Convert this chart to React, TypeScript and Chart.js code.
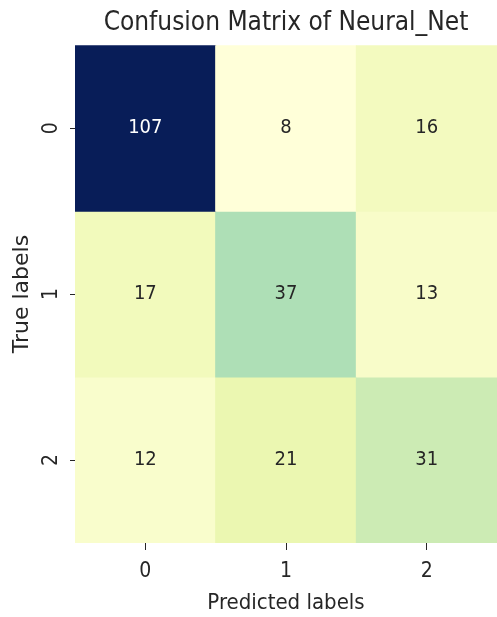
import React, { useEffect, useRef } from 'react';
import { Chart, registerables } from 'chart.js';

Chart.register(...registerables);

// Data
const predictedLabels = ['0', '1', '2'];
const trueLabels = ['0', '1', '2'];
const rowTrue0 = [107, 8, 16];
const rowTrue1 = [17, 37, 13];
const rowTrue2 = [12, 21, 31];
const matrix = [rowTrue0, rowTrue1, rowTrue2];

// YlGnBu colormap stops
const ylGnBu = ['#ffffd9', '#edf8b1', '#c7e9b4', '#7fcdbb', '#41b6c4', '#1d91c0', '#225ea8', '#253494', '#081d58'];

function hexToRgb(h: string) {
  const n = parseInt(h.slice(1), 16);
  return [(n >> 16) & 255, (n >> 8) & 255, n & 255];
}

function cmap(v: number, vmin: number, vmax: number) {
  const t = Math.max(0, Math.min(1, (v - vmin) / (vmax - vmin)));
  const p = t * (ylGnBu.length - 1);
  const i = Math.min(Math.floor(p), ylGnBu.length - 2);
  const f = p - i;
  const a = hexToRgb(ylGnBu[i]);
  const b = hexToRgb(ylGnBu[i + 1]);
  const c = a.map((x, k) => Math.round(x + (b[k] - x) * f));
  return { css: `rgb(${c[0]},${c[1]},${c[2]})`, lum: (0.299 * c[0] + 0.587 * c[1] + 0.114 * c[2]) / 255 };
}

const FONT = "'DejaVu Sans Condensed', 'DejaVu Sans', sans-serif";
const TEXT = '#262626';

export default function App() {
  const ref = useRef<HTMLCanvasElement>(null);
  useEffect(() => {
    document.body.style.margin = '0';
    const all = matrix.flat();
    const vmin = Math.min(...all);
    const vmax = Math.max(...all);

    const datasets = trueLabels.map((t, i) => ({
      label: 'True ' + t,
      data: matrix[i].map(() => [i - 0.5, i + 0.5]),
      backgroundColor: matrix[i].map((v) => cmap(v, vmin, vmax).css),
      borderWidth: 0,
      barPercentage: 1,
      categoryPercentage: 1,
      grouped: false,
      inflateAmount: 0.5,
    }));

    const annot = {
      id: 'annot',
      afterDatasetsDraw(chart: any) {
        const ctx = chart.ctx;
        ctx.save();
        ctx.font = `20px ${FONT}`;
        ctx.textAlign = 'center';
        ctx.textBaseline = 'middle';
        chart.data.datasets.forEach((ds: any, i: number) => {
          const meta = chart.getDatasetMeta(i);
          meta.data.forEach((bar: any, j: number) => {
            const v = matrix[i][j];
            const c = cmap(v, vmin, vmax);
            ctx.fillStyle = c.lum < 0.5 ? '#ffffff' : TEXT;
            ctx.fillText(String(v), bar.x, (bar.y + bar.base) / 2);
          });
        });
        ctx.restore();
      },
    };

    const chart = new Chart(ref.current as HTMLCanvasElement, {
      type: 'bar',
      data: { labels: predictedLabels, datasets: datasets as any },
      options: {
        responsive: false,
        animation: false,
        devicePixelRatio: 1,
        layout: { padding: 0 },
        plugins: {
          legend: { display: false },
          tooltip: { enabled: false },
          title: {
            display: true,
            text: 'Confusion Matrix of Neural_Net',
            fullSize: false,
            color: TEXT,
            font: { family: FONT, size: 26, weight: 'normal' },
            padding: { top: 8, bottom: 6 },
          },
        },
        scales: {
          x: {
            type: 'category',
            position: 'bottom',
            offset: true,
            border: { display: false },
            grid: { display: true, drawOnChartArea: false, drawTicks: true, tickLength: 7, offset: false, color: TEXT, lineWidth: 1 },
            ticks: { color: TEXT, font: { family: FONT, size: 21 }, padding: 9 },
            title: { display: true, text: 'Predicted labels', color: TEXT, font: { family: FONT, size: 22 }, padding: { top: 0, bottom: 1 } },
            afterFit: (s: any) => { s.height = 74; },
          },
          y: {
            type: 'linear',
            min: -0.5,
            max: 2.5,
            reverse: true,
            border: { display: false },
            grid: { display: true, drawOnChartArea: false, drawTicks: true, tickLength: 5, color: TEXT, lineWidth: 1 },
            afterBuildTicks: (s: any) => { s.ticks = trueLabels.map((_, i) => ({ value: i })); },
            ticks: {
              color: TEXT,
              font: { family: FONT, size: 21 },
              minRotation: 90,
              maxRotation: 90,
              crossAlign: 'center',
              padding: 12,
              callback: (v: any) => trueLabels[v as number],
            },
            title: { display: true, text: 'True labels', color: TEXT, font: { family: "'DejaVu Sans', sans-serif", size: 22 }, padding: { top: 9, bottom: 0 } },
            afterFit: (s: any) => { s.width = 75; },
          },
        },
      },
      plugins: [annot],
    } as any);
    return () => chart.destroy();
  }, []);
  return <canvas ref={ref} width={497} height={617} style={{ display: 'block' }} />;
}
